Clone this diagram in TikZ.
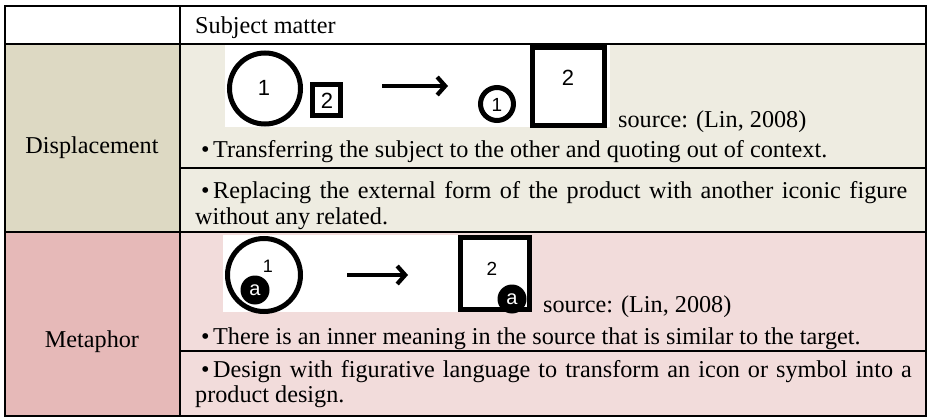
\documentclass[tikz,border=0pt]{standalone}
\usepackage{fontspec}
\setmainfont{Liberation Serif}
\newfontfamily\numfont{Liberation Sans}
\usetikzlibrary{arrows.meta}
\definecolor{tanL}{HTML}{DDD9C3}
\definecolor{tanR}{HTML}{EEECE1}
\definecolor{pinkL}{HTML}{E6B9B8}
\definecolor{pinkR}{HTML}{F2DCDB}
\newcommand\bul{\makebox[12pt][l]{•}}
\begin{document}
\begin{tikzpicture}[x=1pt,y=-1pt,
  grid/.style={line width=1.6pt, black},
  txt/.style={anchor=base west, inner sep=0pt, font=\fontsize{24.2}{28}\selectfont},
  lab/.style={anchor=base, inner sep=0pt, font=\fontsize{24.2}{28}\selectfont},
  num/.style={inner sep=0pt, font=\numfont\fontsize{22}{22}\selectfont},
  icon/.style={line width=5pt, black},
  arr/.style={line width=4.2pt, -{Straight Barb[length=8pt,width=18pt,line width=4.2pt]}},
  dot/.style={fill=black, circle, inner sep=0pt, minimum size=29pt, text=white, font=\numfont\fontsize{20}{20}\selectfont}
]
\useasboundingbox (0,0) rectangle (927,417);
\fill[white] (0,0) rectangle (927,417);
% cell backgrounds
\fill[tanL] (4.7,44) rectangle (180,232);
\fill[tanR] (180,44) rectangle (925.7,232);
\fill[pinkL] (4.7,232) rectangle (180,416);
\fill[pinkR] (180,232) rectangle (925.7,416);
% picture backgrounds
\fill[white] (225,45) rectangle (610,127);
\fill[white] (223,235) rectangle (532,312);
% grid
\draw[grid] (4.7,6) rectangle (925.7,416);
\draw[grid] (180,6) -- (180,416);
\draw[grid] (4.7,44) -- (925.7,44);
\draw[grid] (4.7,232) -- (925.7,232);
\draw[grid] (180,168) -- (925.7,168);
\draw[grid] (180,351) -- (925.7,351);

% header and row labels
\node[txt] (hdr) at (195,34) {Subject matter};
\node[lab] (disp) at (92,154) {Displacement};
\node[lab] (meta) at (92,347) {Metaphor};

% displacement icons
\draw[line width=5pt] (265,88.5) circle[radius=35.5pt];
\node[num] (d1) at (264,88) {1};
\draw[icon] (312.5,84.5) rectangle (340.5,115.5);
\node[num] (d2) at (327,101) {2};
\coordinate (da1) at (382,86);
\coordinate (da2) at (448,86);
\draw[arr] (da1) -- (da2);
\draw[icon] (497,104) circle[radius=16.5pt];
\node[num, font=\numfont\fontsize{19}{19}\selectfont] (d3) at (497,105) {1};
\draw[icon] (532.5,47.5) rectangle (604.5,125.5);
\node[num] (d4) at (568,78) {2};
\node[txt] (src1) at (618,128) {source: (Lin, 2008)};

% displacement text
\node[txt] (t1) at (201,158) {\bul Transferring the subject to the other and quoting out of context.};
\node[txt] (t2) at (201,198) {\bul\makebox[694pt][s]{Replacing the external form of the product with another iconic figure}};
\node[txt] (t3) at (195,225) {without any related.};

% metaphor icons
\draw[icon] (264,275) circle[radius=36.5pt];
\node[dot] (ma) at (255,290) {a};
\node[num, font=\numfont\fontsize{18}{18}\selectfont] (m1) at (268,266) {1};
\coordinate (ma1) at (347,275);
\coordinate (ma2) at (408,275);
\draw[arr] (ma1) -- (ma2);
\draw[icon] (460.5,237.5) rectangle (529.5,309.5);
\node[num, font=\numfont\fontsize{19}{19}\selectfont] (m2) at (492,269) {2};
\node[dot] (mb) at (512,299) {a};
\node[txt] (src2) at (543,312) {source: (Lin, 2008)};

% metaphor text
\node[txt] (t4) at (201,344) {\bul There is an inner meaning in the source that is similar to the target.};
\node[txt] (t5) at (201,377) {\bul\makebox[698.7pt][s]{Design with figurative language to transform an icon or symbol into a}};
\node[txt] (t6) at (195,402) {product design.};
\end{tikzpicture}
\end{document}
